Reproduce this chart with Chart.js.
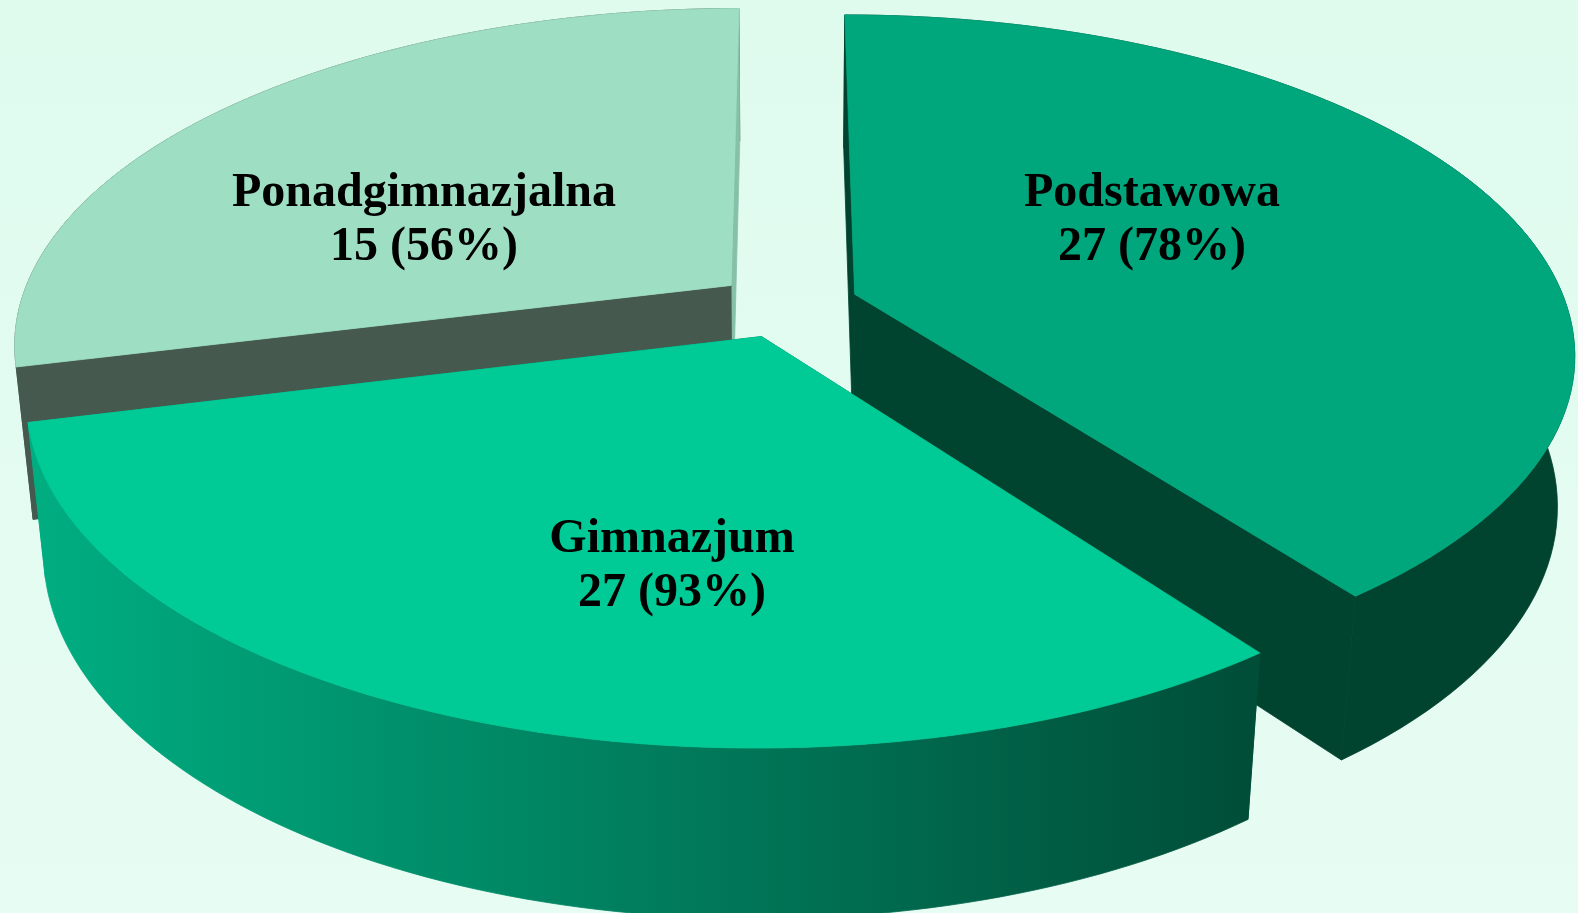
<!DOCTYPE html>
<html>
<head>
<meta charset="utf-8">
<title>Wykształcenie</title>
<script src="https://cdn.jsdelivr.net/npm/chart.js@4"></script>
<style>
  html, body { margin: 0; padding: 0; background: #e3fbf0; }
  canvas { display: block; }
</style>
</head>
<body>
<canvas id="pie" width="1578" height="913"></canvas>
<script>
// labels printed on the slices
const categories = ['Podstawowa', 'Gimnazjum', 'Ponadgimnazjalna'];
const counts = [27, 27, 15];
const percents = [78, 93, 56];
// slice sizes (degrees), they do not follow the counts
const sliceSizes = [143.2, 112.8, 104];

const topColors = ['#00a67c', '#00ca96', '#9edfc3'];
const wallColors = ['#00432f', null, '#45594e'];
const sliverColors = ['#00432f', null, '#86c0a6'];

// exploded position of each slice on the disc, radius = 1
const explode = [[0.097, -0.06], [-0.034, 0.067], [-0.078, -0.087]];
const labelPos = [[1152, 221], [672, 567], [424, 221]];
const drawOrder = [2, 0, 1];

// camera
const cx = 786, cy = 314, radX = 715, radY = 333, depth = 153, tiltP = 0.17, tiltQ = 0.022;

function project(u, v, z) {
  const w = 1 - tiltP * v + tiltQ * z;
  return [cx + radX * u / w, cy + (radY * v + depth * z) / w];
}

function sliceRim(arc, shift, z) {
  const pts = [];
  const steps = 90;
  for (let i = 0; i <= steps; i++) {
    const a = arc.startAngle + (arc.endAngle - arc.startAngle) * i / steps;
    pts.push(project(shift[0] + Math.cos(a), shift[1] + Math.sin(a), z));
  }
  return pts;
}

// the thin stroke hides the hairline between neighbouring pieces
function fillPoly(ctx, pts, color) {
  ctx.beginPath();
  pts.forEach((p, i) => i ? ctx.lineTo(p[0], p[1]) : ctx.moveTo(p[0], p[1]));
  ctx.closePath();
  ctx.fillStyle = color;
  ctx.fill();
  ctx.strokeStyle = color;
  ctx.lineWidth = 0.8;
  ctx.stroke();
}

const pie3d = {
  id: 'pie3d',
  beforeDraw(chart) {
    const ctx = chart.ctx;
    const bg = ctx.createLinearGradient(0, 0, 0, chart.height);
    bg.addColorStop(0, '#dffbee');
    bg.addColorStop(1, '#e7fcf3');
    ctx.fillStyle = bg;
    ctx.fillRect(0, 0, chart.width, chart.height);
  },
  beforeDatasetsDraw(chart) {
    const ctx = chart.ctx;
    const arcs = chart.getDatasetMeta(0).data;
    const frontWall = ctx.createLinearGradient(40, 0, 1255, 0);
    frontWall.addColorStop(0, '#00ad81');
    frontWall.addColorStop(1, '#004d38');

    drawOrder.forEach(i => {
      const arc = arcs[i];
      const shift = explode[i];
      const top = sliceRim(arc, shift, 0);
      const bottom = sliceRim(arc, shift, 1);
      const apexTop = project(shift[0], shift[1], 0);
      const apexBottom = project(shift[0], shift[1], 1);
      const wall = wallColors[i] || frontWall;
      const sliver = sliverColors[i] || frontWall;

      fillPoly(ctx, top.concat(bottom.slice().reverse()), wall);
      // radial cuts: the start edge of the slice and the end edge
      const startCut = [apexTop, top[0], bottom[0], apexBottom];
      const endCut = [apexTop, top[top.length - 1], bottom[bottom.length - 1], apexBottom];
      fillPoly(ctx, i === 2 ? endCut : startCut, i === 2 ? sliver : wall);
      fillPoly(ctx, i === 2 ? startCut : endCut, wall);
      fillPoly(ctx, [apexTop].concat(top), arc.options.backgroundColor);
    });

    ctx.fillStyle = '#000';
    ctx.font = 'bold 48px "Liberation Serif"';
    ctx.textAlign = 'center';
    ctx.textBaseline = 'middle';
    categories.forEach((name, i) => {
      ctx.fillText(name, labelPos[i][0], labelPos[i][1] - 27);
      ctx.fillText(counts[i] + ' (' + percents[i] + '%)', labelPos[i][0], labelPos[i][1] + 27);
    });
    return false;
  }
};

new Chart(document.getElementById('pie'), {
  type: 'pie',
  data: {
    labels: categories,
    datasets: [{ data: sliceSizes, backgroundColor: topColors, borderWidth: 0 }]
  },
  options: {
    responsive: false,
    animation: false,
    plugins: { legend: { display: false }, tooltip: { enabled: false } }
  },
  plugins: [pie3d]
});
</script>
</body>
</html>
